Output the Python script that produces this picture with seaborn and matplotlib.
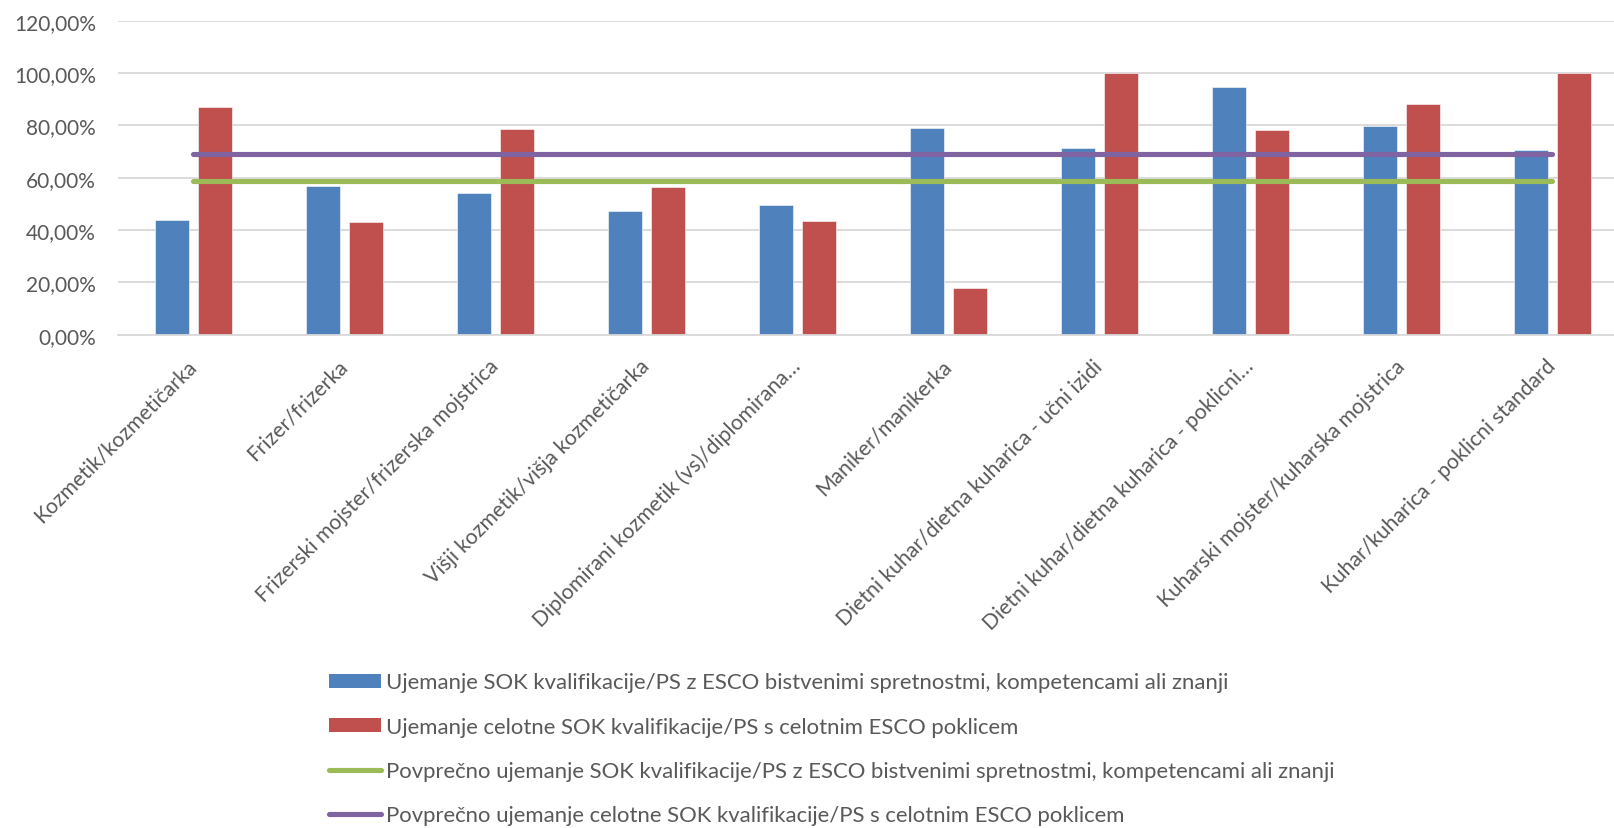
import numpy as np
import pandas as pd
import seaborn as sns
import matplotlib
matplotlib.use("Agg")
import matplotlib.pyplot as plt
from matplotlib.ticker import FuncFormatter, MultipleLocator
from matplotlib.patches import Patch
from matplotlib.lines import Line2D

# -------------------------
# Data
# -------------------------
categories = [
    "Kozmetik/kozmetičarka",
    "Frizer/frizerka",
    "Frizerski mojster/frizerska mojstrica",
    "Višji kozmetik/višja kozmetičarka",
    "Diplomirani kozmetik (vs)/diplomirana…",
    "Maniker/manikerka",
    "Dietni kuhar/dietna kuharica - učni izidi",
    "Dietni kuhar/dietna kuharica - poklicni…",
    "Kuharski mojster/kuharska mojstrica",
    "Kuhar/kuharica - poklicni standard",
]
skills_match = [0.440, 0.570, 0.543, 0.471, 0.497, 0.789, 0.712, 0.948, 0.798, 0.705]
occupation_match = [0.872, 0.430, 0.785, 0.565, 0.434, 0.178, 1.000, 0.782, 0.882, 1.000]
avg_skills_match = 0.588
avg_occupation_match = 0.692

series_names = [
    "Ujemanje SOK kvalifikacije/PS z ESCO bistvenimi spretnostmi, kompetencami ali znanji",
    "Ujemanje celotne SOK kvalifikacije/PS s celotnim ESCO poklicem",
    "Povprečno ujemanje SOK kvalifikacije/PS z ESCO bistvenimi spretnostmi, kompetencami ali znanji",
    "Povprečno ujemanje celotne SOK kvalifikacije/PS s celotnim ESCO poklicem",
]
colors = ["#4F81BD", "#C0504D", "#9BBB59", "#8064A2"]

# -------------------------
# Styling
# -------------------------
sns.set_theme(style="white")
plt.rcParams["font.family"] = ["Lato", "DejaVu Sans"]
text_color = "#595959"
grid_color = "#D9D9D9"
fs_legend = 15.9
fs_xticks = 15.2
fs_yticks = 15.0

df = pd.DataFrame({
    "kategorija": categories * 2,
    "vrednost": skills_match + occupation_match,
    "serija": [series_names[0]] * len(categories) + [series_names[1]] * len(categories),
})

fig = plt.figure(figsize=(16.15, 8.29), dpi=100)
ax = fig.add_axes([118 / 1615, 1 - 335.7 / 829, (1628 - 118) / 1615, (335.7 - 21.7) / 829])

sns.barplot(
    data=df, x="kategorija", y="vrednost", hue="serija",
    hue_order=series_names[:2], palette=colors[:2],
    width=0.57, gap=0.21, legend=False, ax=ax, saturation=1,
    edgecolor="white", linewidth=0.4,
)

xpos = np.arange(len(categories))
sns.lineplot(x=xpos, y=[avg_skills_match] * len(categories), color=colors[2],
             linewidth=3.7, solid_capstyle="round", ax=ax)
sns.lineplot(x=xpos, y=[avg_occupation_match] * len(categories), color=colors[3],
             linewidth=3.7, solid_capstyle="round", ax=ax)

ax.set_xlim(-0.5, len(categories) - 0.5)
ax.set_ylim(0, 1.2)
ax.yaxis.set_major_locator(MultipleLocator(0.2))
ax.yaxis.set_major_formatter(FuncFormatter(lambda v, _: f"{v * 100:.2f}%".replace(".", ",")))
ax.grid(axis="y", color=grid_color, linewidth=1.3)
ax.set_axisbelow(True)
for s in ["top", "right", "left"]:
    ax.spines[s].set_visible(False)
ax.spines["bottom"].set_color(grid_color)
ax.spines["bottom"].set_linewidth(1.3)
ax.set_xlabel("")
ax.set_ylabel("")

ax.tick_params(axis="y", length=0, pad=16, labelsize=fs_yticks, labelcolor=text_color)
ax.tick_params(axis="x", length=0, pad=20, labelsize=fs_xticks, labelcolor=text_color)
ax.set_xticks(xpos)
ax.set_xticklabels(categories, rotation=45, ha="right", va="center", rotation_mode="anchor")

# legend below the chart
handles = [
    Patch(facecolor=colors[0], edgecolor="none"),
    Patch(facecolor=colors[1], edgecolor="none"),
    Line2D([0], [0], color=colors[2], linewidth=3.7, solid_capstyle="round"),
    Line2D([0], [0], color=colors[3], linewidth=3.7, solid_capstyle="round"),
]
fig.legend(
    handles, series_names, loc="upper left", bbox_to_anchor=(329 / 1615, 1 - 673.5 / 829),
    frameon=False, fontsize=fs_legend, labelcolor=text_color, borderpad=0, borderaxespad=0,
    handlelength=2.35, handleheight=0.63, handletextpad=0.23, labelspacing=1.1,
)

fig.savefig("out.png", dpi=100)
